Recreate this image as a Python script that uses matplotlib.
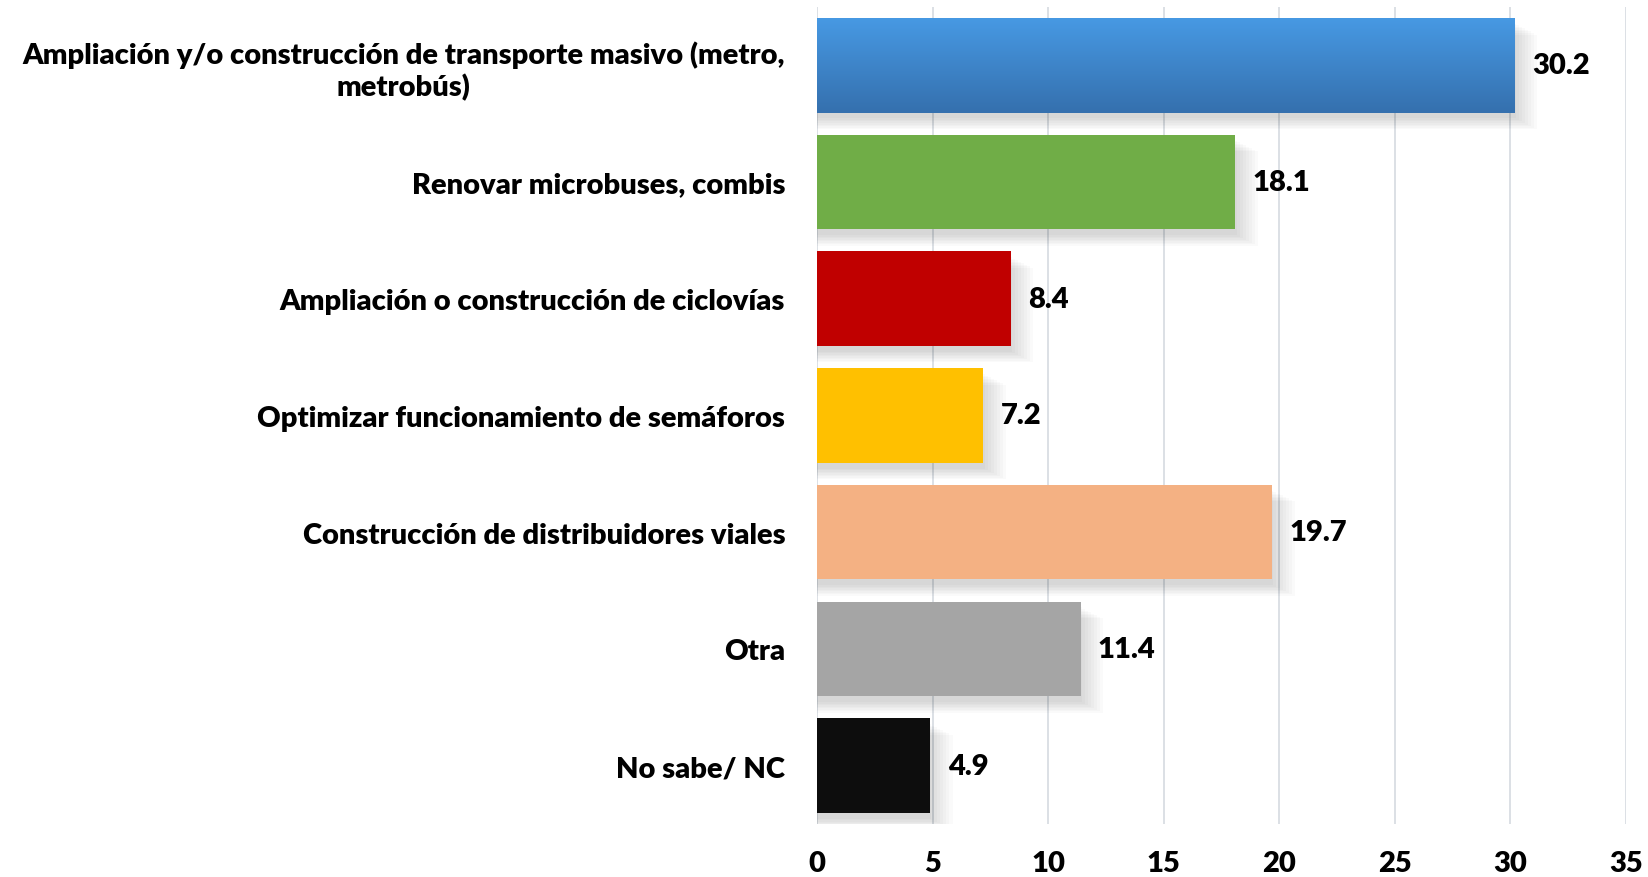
import numpy as np
import matplotlib
matplotlib.use("Agg")
import matplotlib.pyplot as plt
from matplotlib.patches import Rectangle
from matplotlib.colors import LinearSegmentedColormap

categories = [
    "Ampliación y/o construcción de transporte masivo (metro,\nmetrobús)",
    "Renovar microbuses, combis",
    "Ampliación o construcción de ciclovías",
    "Optimizar funcionamiento de semáforos",
    "Construcción de distribuidores viales",
    "Otra",
    "No sabe/ NC",
]
values = [30.2, 18.1, 8.4, 7.2, 19.7, 11.4, 4.9]
bar_colors = ["#3f8ed8", "#70ad47", "#c00000", "#ffc000", "#f4b183", "#a5a5a5", "#0d0d0d"]
xticks = [0, 5, 10, 15, 20, 25, 30, 35]

plt.rcParams["font.family"] = ["Lato", "DejaVu Sans"]

fig = plt.figure(figsize=(16.48, 8.78), dpi=100)
ax = fig.add_axes([0.4958, 0.0604, 0.4908, 0.9305])

y = np.arange(len(categories))
h = 0.81
fs = 21
wt = "heavy"

# soft shadows under the bars
for yi, v in zip(y, values):
    for k in range(8):
        ax.add_patch(Rectangle((0, yi - h / 2 + 0.05 + k * 0.013), v + 0.05 + k * 0.13, h,
                               facecolor="#000000", alpha=0.018, lw=0, zorder=1))

bars = ax.barh(y, values, height=h, color=bar_colors, zorder=3)

# vertical gradient on the first bar, lighter at the top
grad = np.linspace(0, 1, 100).reshape(-1, 1)
cmap = LinearSegmentedColormap.from_list("blu", ["#3570ae", "#4799e3"])
ax.imshow(grad, cmap=cmap, aspect="auto", zorder=4,
          extent=[0, values[0], y[0] - h / 2, y[0] + h / 2], origin="upper")
bars[0].set_visible(False)

for yi, v in zip(y, values):
    ax.text(v + 0.75, yi, f"{v:.1f}", va="center", ha="left", fontsize=fs, fontweight=wt, zorder=5)

ax.set_xlim(0, 35)
ax.set_ylim(len(categories) - 0.5, -0.5)
ax.set_xticks(xticks)
ax.set_xticklabels([str(t) for t in xticks], fontsize=fs, fontweight=wt)
ax.set_yticks(y)
ax.set_yticklabels(categories, fontsize=fs, fontweight=wt, multialignment="center")
ax.tick_params(axis="x", length=0, pad=19)
ax.tick_params(axis="y", length=0, pad=23)
ax.grid(axis="x", color="#d9dde3", lw=1.3, zorder=0)
ax.set_axisbelow(True)
for s in ax.spines.values():
    s.set_visible(False)

fig.savefig("out.png", dpi=100)
